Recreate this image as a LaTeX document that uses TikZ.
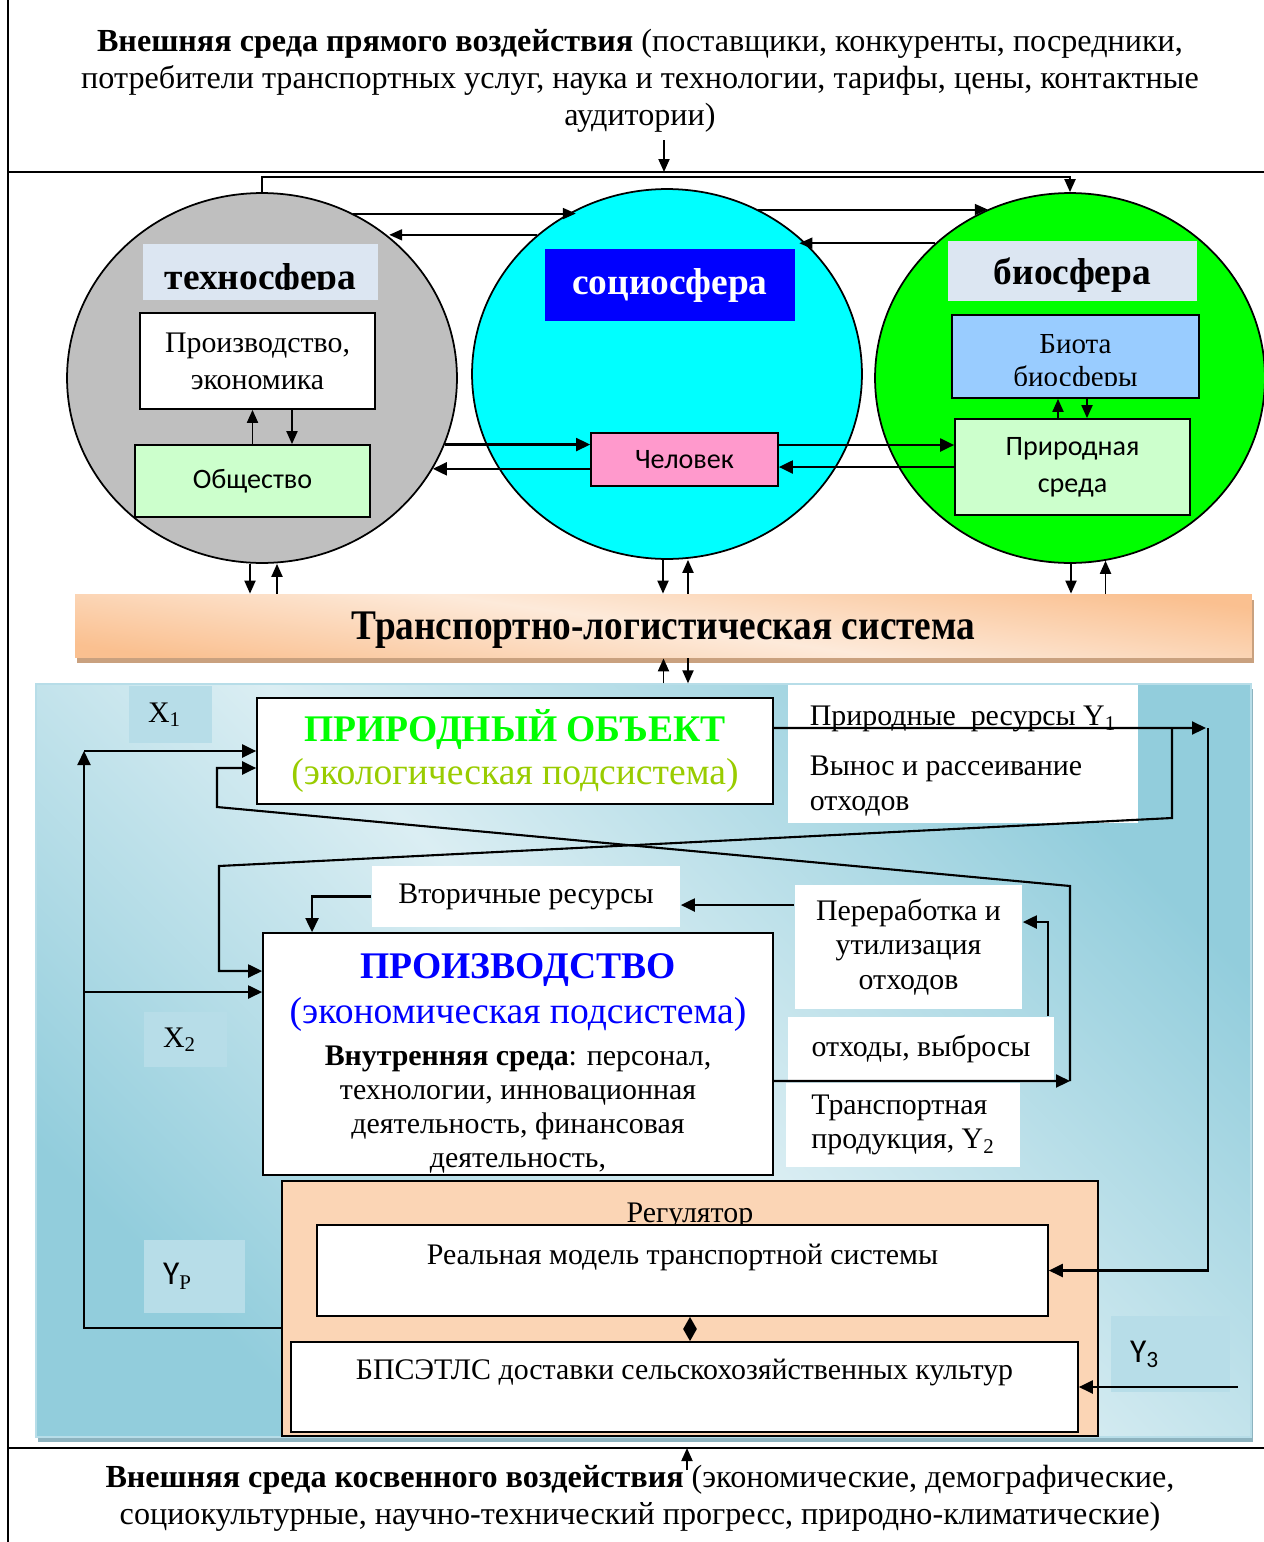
\documentclass[tikz,border=0pt]{standalone}
\usepackage{fontspec}
\setmainfont{Liberation Serif}
\newfontfamily\calib{Carlito}
\usepackage{graphicx}
\usetikzlibrary{arrows.meta,positioning,calc,shapes.geometric,shadows}
\definecolor{techgrey}{HTML}{BFBFBF}
\definecolor{soccyan}{HTML}{00FFFF}
\definecolor{biogreen}{HTML}{00FF00}
\definecolor{titlebg}{HTML}{DCE6F2}
\definecolor{socblue}{HTML}{0000FF}
\definecolor{mint}{HTML}{CCFFCC}
\definecolor{rose}{HTML}{FF99CC}
\definecolor{sky}{HTML}{99CCFF}
\definecolor{barorange}{HTML}{FAC090}
\definecolor{barlight}{HTML}{FDEADA}
\definecolor{barshade}{HTML}{C9A17F}
\definecolor{paneldark}{HTML}{92CDDC}
\definecolor{panellight}{HTML}{DBEEF3}
\definecolor{panelshade}{HTML}{8DB3BF}
\definecolor{tagblue}{HTML}{B7DDE8}
\definecolor{peach}{HTML}{FBD5B5}
\definecolor{natgreen}{HTML}{00FF00}
\definecolor{ecoolive}{HTML}{99CC00}
\newcommand\fsmain{\fontsize{18.3}{21}\selectfont}
\newcommand\fspanel{\fontsize{17}{19.5}\selectfont}
\newcommand\fsbox{\fontsize{17}{21}\selectfont}
\newcommand\fssans{\calib\fontsize{16}{21}\selectfont}
\newcommand\fsbig{\fontsize{21.4}{24}\selectfont}

\begin{document}
\begin{tikzpicture}[x=0.02cm,y=-0.02cm,line width=1pt,font=\fsmain,
    arr/.style={line width=1.2pt,-{Triangle[length=2.8mm,width=2.6mm]}},
    arrs/.style={line width=1.1pt,-{Triangle[length=2.6mm,width=2.2mm]}},
    sphere/.style={ellipse,draw,line width=1pt,minimum width=7.8cm,minimum height=7.4cm},
    ttl/.style={fill=titlebg,font=\fontsize{21.3}{24}\selectfont\bfseries,inner sep=0pt},
    bx/.style={draw,line width=1pt,inner sep=2pt,align=center},
    wb/.style={fill=white,inner sep=0pt,align=center,font=\fspanel},
    tagbox/.style={fill=tagblue,inner sep=0pt,font=\fspanel,align=left}]
  \useasboundingbox (0,0) rectangle (1264,1542);
  % frame
  \draw (8,0) -- (8,1542);
  \draw (8,172) -- (1264,172);
  \draw (8,1448) -- (1264,1448);
  \coordinate (inA) at (664,172);
  \coordinate (inB) at (687,1448);
  \node[align=center] (extA) at (640,81)
    {\textbf{Внешняя среда прямого воздействия} (поставщики, конкуренты, посредники,\\
     потребители транспортных услуг, наука и технологии, тарифы, цены, контактные\\
     аудитории)};
  \node[align=center] (extB) at (640,1498)
    {\textbf{Внешняя среда косвенного воздействия} (экономические, демографические,\\
     социокультурные, научно-технический прогресс, природно-климатические)};
  \draw[arrs] ([yshift=6.4mm]inA) -- (inA);
  \draw[arrs] ([yshift=-4.4mm]inB) -- (inB);

  % spheres
  \node[sphere,fill=techgrey] (techno) at (262,378) {};
  \node[sphere,fill=soccyan] (socio) at (667,374) {};
  \node[sphere,fill=biogreen] (bio) at (1070,378) {};
  \node[ttl,minimum width=4.7cm,minimum height=1.12cm] (ttech) at (260.5,272) {};
  \begin{scope}
    \clip (ttech.north west) rectangle ([yshift=2.2mm]ttech.south east);
    \node[ttl,fill=none,anchor=base] (ttecht) at (260.5,289) {техносфера};
  \end{scope}
  \node[ttl,fill=socblue,text=white,minimum width=5cm,minimum height=1.44cm] (tsoc) at (670,285) {социосфера};
  \node[ttl,text depth=0pt,minimum width=4.98cm,minimum height=1.2cm] (tbio) at (1072.5,271) {биосфера};
  \node[bx,fill=white,font=\fsbox,minimum width=4.7cm,minimum height=1.92cm] (econ) at (257.5,361) {Производство,\\экономика};
  \node[bx,fill=mint,font=\fssans,minimum width=4.7cm,minimum height=1.44cm] (obs) at (252.5,481) {Общество};
  \node[bx,fill=rose,font=\fssans,minimum width=3.74cm,minimum height=1.06cm] (chel) at (684.5,459.5) {Человек};
  \node[bx,fill=sky,minimum width=4.94cm,minimum height=1.66cm] (biota) at (1075.5,356.5) {};
  \begin{scope}
    \clip (biota.north west) rectangle ([yshift=2.6mm]biota.south east);
    \node[align=center,font=\fontsize{16.5}{19}\selectfont] (biotat) at ([yshift=-1.4mm]biota.center) {Биота\\биосферы};
  \end{scope}
  \node[bx,fill=mint,font=\fssans,minimum width=4.7cm,minimum height=1.92cm] (ps) at (1072.5,467) {Природная\\среда};

  \draw[arrs] (techno.north) -- ++(0,-15) -| (bio.north);
  \draw[arrs] (techno.61) -- (socio.119 |- techno.61);
  \draw[arrs] (socio.133) -- (techno.48 |- socio.133);
  \draw[arrs] (socio.61) -- (bio.116 |- socio.61);
  \draw[arrs] (bio.135) -- (socio.46 |- bio.135);
  \draw[arr] (techno.-20) -- (techno.-20 -| chel.west);
  \draw[arr] (chel.west |- techno.-28) -- (techno.-28);
  \draw[arr] ([yshift=2.9mm]chel.east) -- ([yshift=2.9mm]chel.east -| ps.west);
  \draw[arr] (ps.west) -- (ps.west -| chel.east);
  \draw[arrs] (obs.north) -- (obs.north |- econ.south);
  \draw[arrs] ([xshift=6.9mm]econ.south) -- ([xshift=6.9mm]econ.south |- obs.north);
  \draw[arrs] ([xshift=-2.9mm]ps.north) -- ([xshift=-2.9mm]ps.north |- biota.south);
  \draw[arrs] ([xshift=2.3mm]biota.south) -- ([xshift=2.3mm]biota.south |- ps.north);

  % transport bar
  \node[top color=barorange,bottom color=barorange,middle color=barlight,shading angle=-8,
    general shadow={fill=barshade,shadow xshift=0.4mm,shadow yshift=-1mm},
    text depth=0pt,minimum width=23.54cm,minimum height=1.26cm] (bar) at (663.5,626)
    {\scalebox{0.885}[1]{\fontsize{24}{28}\selectfont\bfseries Транспортно-логистическая система}};
  \draw[arrs] ([xshift=-2.4mm]techno.south) -- ([xshift=-2.4mm]techno.south |- bar.north);
  \draw[arrs] ([xshift=3mm]techno.south |- bar.north) -- ([xshift=3mm]techno.south);
  \draw[arrs] ([xshift=-0.8mm]socio.south) -- ([xshift=-0.8mm]socio.south |- bar.north);
  \draw[arrs] ([xshift=4.2mm]socio.south |- bar.north) -- ([xshift=4.2mm]socio.south);
  \draw[arrs] ([xshift=0.2mm]bio.south) -- ([xshift=0.2mm]bio.south |- bar.north);
  \draw[arrs] (bio.-79 |- bar.north) -- (bio.-79);

  % lower panel
  \node[top color=paneldark,bottom color=paneldark,middle color=panellight,shading angle=-45,
    draw=tagblue,line width=0.8pt,
    general shadow={fill=panelshade,shadow xshift=0.4mm,shadow yshift=-1mm},
    minimum width=24.3cm,minimum height=15.06cm] (panel) at (643.5,1060.5) {};
  \draw[arrs] (bar.south |- panel.north) -- (bar.south);
  \draw[arrs] ([xshift=4.9mm]bar.south) -- ([xshift=4.9mm]bar.south |- panel.north);

  \node[tagbox,minimum width=1.66cm,minimum height=1.14cm,text width=0.9cm] (xone) at (170.5,714.5) {X\textsubscript{1}};
  \node[tagbox,minimum width=1.66cm,minimum height=1.1cm,text width=0.9cm] (xtwo) at (185.5,1039.5) {X\textsubscript{2}};
  \node[tagbox,minimum width=2.02cm,minimum height=1.46cm,text width=1.26cm] (yp) at (194.5,1276.5)
    {{\calib\fontsize{19}{22}\selectfont Y}\textsubscript{P}};
  \node[tagbox,minimum width=2.38cm,minimum height=1.52cm,text width=1.62cm] (ythree) at (1170.5,1354)
    {\calib\fontsize{19}{22}\selectfont Y\textsubscript{3}};
  \node[bx,fill=white,minimum width=10.32cm,minimum height=2.12cm] (nat) at (515,751)
    {{\fsbig\bfseries\color{natgreen}ПРИРОДНЫЙ ОБЪЕКТ}\\[3pt]
     {\fsbig\color{ecoolive}(экологическая подсистема)}};
  \node[wb,minimum width=7cm,minimum height=2.76cm] (res) at (963,754) {};
  \node[align=left,font=\fspanel,inner sep=0pt] (rest) at ([yshift=-1.4mm]res.center)
    {Природные\ \ ресурсы Y\textsubscript{1}\\[9pt]Вынос и рассеивание\\отходов};
  \node[wb,minimum width=6.16cm,minimum height=1.22cm] (vtor) at (526,896.5) {Вторичные ресурсы};
  \node[wb,minimum width=4.54cm,minimum height=2.48cm] (per) at (908.5,947) {Переработка и\\утилизация\\отходов};
  \node[wb,minimum width=5.32cm,minimum height=1.26cm] (otx) at (921,1048.5) {отходы, выбросы};
  \node[wb,minimum width=4.68cm,minimum height=1.68cm,align=left] (trp) at (903,1125)
    {Транспортная\\продукция, Y\textsubscript{2}};
  \node[bx,fill=white,minimum width=10.2cm,minimum height=4.84cm] (prod) at (518,1054) {};
  \node[align=center,font=\fspanel,inner sep=0pt,anchor=north] (prodt) at ([yshift=-4.2mm]prod.north)
    {{\fsbig\bfseries\color{socblue}ПРОИЗВОДСТВО}\\[6pt]
     {\fsbig\color{socblue}(экономическая подсистема)}\\[4pt]
     \textbf{Внутренняя среда}: персонал,\\технологии, инновационная\\
     деятельность, финансовая\\деятельность,};
  \node[bx,fill=peach,minimum width=16.32cm,minimum height=5.1cm] (reg) at (690,1308.5) {};
  \node[font=\fspanel] (regt) at ([yshift=-7.2mm]reg.north) {Регулятор};
  \node[bx,fill=white,minimum width=14.62cm,minimum height=1.82cm] (real) at (682.5,1270.5) {};
  \node[font=\fspanel] (realt) at ([yshift=-6.6mm]real.north) {Реальная модель транспортной системы};
  \node[bx,fill=white,minimum width=15.74cm,minimum height=1.8cm] (bp) at (684.5,1387) {};
  \node[font=\fspanel] (bpt) at ([yshift=-6.2mm]bp.north) {БПСЭТЛС доставки сельскохозяйственных культур};

  \coordinate (fbtop) at (84,751);
  \coordinate (y1tip) at (1206,728);
  \coordinate (y1bend) at (1208,728);
  \coordinate (y1split) at (1172,728);
  \coordinate (wtip) at (1070,1081);
  \coordinate (x2in) at ([yshift=12.4mm]prod.west);
  % inputs X1, X2 and feedback Y_P
  \draw[arr] ([yshift=-3.9mm]reg.west) -| (fbtop);
  \draw[arr] (fbtop) -- (nat.west);
  \draw[arr] (fbtop |- x2in) -- (x2in);
  % natural resources Y1
  \draw[arr] ([yshift=4.6mm]nat.east) -- (y1tip);
  \draw[arr] (y1bend) |- (real.east);
  \draw[arr] (y1split) -- ++(0,90) -- (219,866) |- ([yshift=16.6mm]prod.west);
  % wastes
  \draw[arr] ([yshift=-5.4mm]prod.east) -- (wtip);
  \draw[arr] (wtip) -- ++(0,-195) -- (217,807) |- ([yshift=-3.4mm]nat.west);
  \draw[arr] ([xshift=25.4mm]otx.north) |- ([yshift=5mm]per.east);
  \draw[arr] ([yshift=8.4mm]per.west) -- ([yshift=8.4mm]per.west -| vtor.east);
  \draw[arr] (vtor.west) -| ([xshift=-41.2mm]prod.north);
  % regulator
  \draw[line width=1.2pt,{Triangle[length=2.4mm,width=2.6mm]}-{Triangle[length=2.4mm,width=2.6mm]}]
    ([xshift=1.5mm]real.south) -- ([xshift=1.5mm]real.south |- bp.north);
  \draw[arr] ([xshift=31.8mm]bp.east) -- (bp.east);
\end{tikzpicture}
\end{document}
